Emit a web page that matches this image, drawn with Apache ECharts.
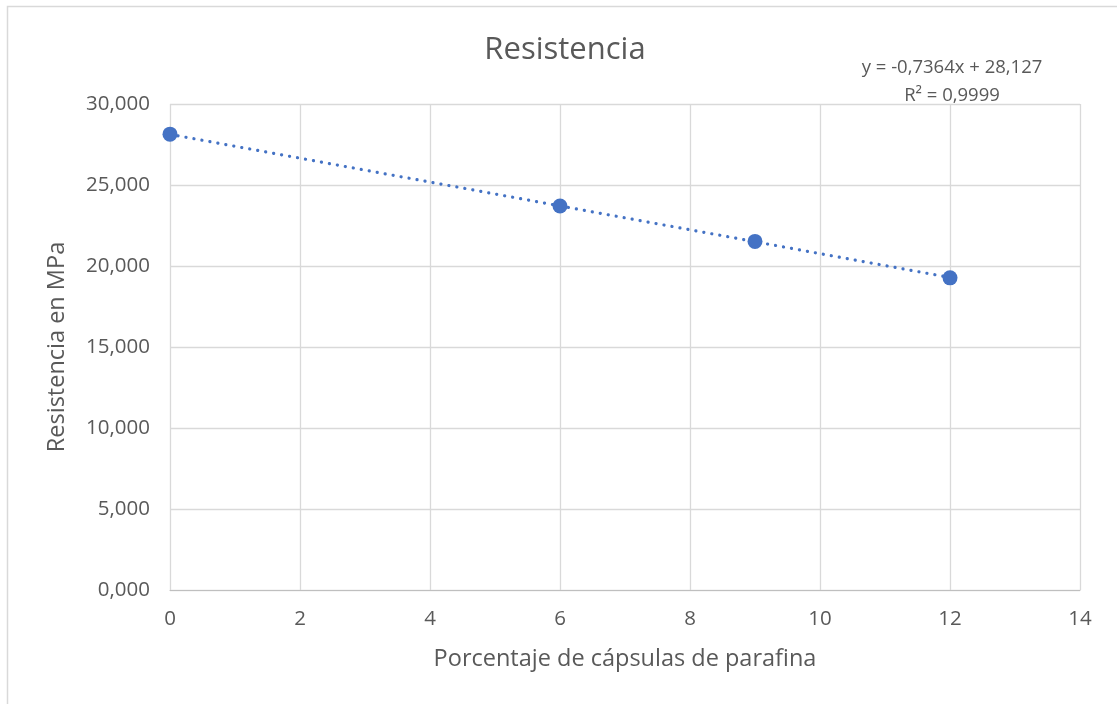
<!DOCTYPE html>
<html>
<head>
<meta charset="utf-8">
<style>
  html, body { margin: 0; padding: 0; background: #ffffff; }
  #chart { width: 1117px; height: 704px; }
</style>
<script src="https://cdn.jsdelivr.net/npm/echarts@6/dist/echarts.min.js"></script>
</head>
<body>
<div id="chart"></div>
<script>
// Porcentaje de cápsulas de parafina vs. resistencia (MPa)
const porcentaje = [0, 6, 9, 12];
const resistencia = [28.14, 23.70, 21.52, 19.27];

// Linear trendline as reported: y = -0,7364x + 28,127
const pendiente = -0.7364;
const intercepto = 28.127;
const r2Texto = 'R² = 0,9999';
const ecuacionTexto = 'y = -0,7364x + 28,127';

const xTicks = { min: 0, max: 14, interval: 2 };
const yTicks = { min: 0, max: 30, interval: 5 };

const tendencia = [
  [porcentaje[0], intercepto + pendiente * porcentaje[0]],
  [porcentaje[porcentaje.length - 1], intercepto + pendiente * porcentaje[porcentaje.length - 1]]
];

const fontFam = '"Open Sans", "Noto Sans", sans-serif';
const azul = '#4472C4';
const gris = '#595959';

const chart = echarts.init(document.getElementById('chart'), null, { renderer: 'canvas' });

chart.setOption({
  backgroundColor: '#ffffff',
  animation: false,
  grid: { left: 170, right: 37, top: 104, bottom: 114, containLabel: false },
  xAxis: {
    type: 'value',
    min: xTicks.min, max: xTicks.max, interval: xTicks.interval,
    name: 'Porcentaje de cápsulas de parafina',
    nameLocation: 'middle',
    nameGap: 57,
    nameTextStyle: { fontFamily: fontFam, fontSize: 23.5, color: gris },
    axisLine: { show: true, lineStyle: { color: '#bfbfbf', width: 1 } },
    axisTick: { show: false },
    axisLabel: { fontFamily: fontFam, fontSize: 20.5, color: gris, margin: 19 },
    splitLine: { show: true, lineStyle: { color: '#d9d9d9', width: 1.3 } }
  },
  yAxis: {
    type: 'value',
    min: yTicks.min, max: yTicks.max, interval: yTicks.interval,
    name: 'Resistencia en MPa',
    nameLocation: 'middle',
    nameGap: 101,
    nameTextStyle: { fontFamily: fontFam, fontSize: 23.5, color: gris },
    axisLine: { show: false },
    axisTick: { show: false },
    axisLabel: {
      fontFamily: fontFam, fontSize: 20.5, color: gris, margin: 20,
      formatter: v => v.toFixed(3).replace('.', ',')
    },
    splitLine: { show: true, lineStyle: { color: '#d9d9d9', width: 1.3 } }
  },
  graphic: [
    {
      type: 'rect',
      shape: { x: 7.5, y: 6.5, width: 1200, height: 800 },
      style: { fill: 'none', stroke: '#d9d9d9', lineWidth: 1.5 },
      silent: true, z: -1
    },
    {
      type: 'text',
      x: 565, y: 50,
      style: {
        text: 'Resistencia', fontFamily: fontFam, fontSize: 31,
        fill: gris, align: 'center', verticalAlign: 'middle'
      }
    },
    {
      type: 'text',
      x: 952, y: 68,
      style: {
        text: ecuacionTexto, fontFamily: fontFam, fontSize: 18.5,
        fill: gris, align: 'center', verticalAlign: 'middle'
      }
    },
    {
      type: 'text',
      x: 952, y: 96,
      style: {
        text: r2Texto, fontFamily: fontFam, fontSize: 18.5,
        fill: gris, align: 'center', verticalAlign: 'middle'
      }
    }
  ],
  series: [
    {
      name: 'Lineal',
      type: 'line',
      data: tendencia,
      showSymbol: false,
      symbol: 'none',
      lineStyle: { color: azul, width: 3.2, type: [0.1, 8], cap: 'round' },
      z: 2
    },
    {
      name: 'Resistencia',
      type: 'scatter',
      data: porcentaje.map((x, i) => [x, resistencia[i]]),
      symbol: 'circle',
      symbolSize: 15,
      itemStyle: { color: azul, opacity: 1 },
      z: 3
    }
  ]
});
</script>
</body>
</html>
